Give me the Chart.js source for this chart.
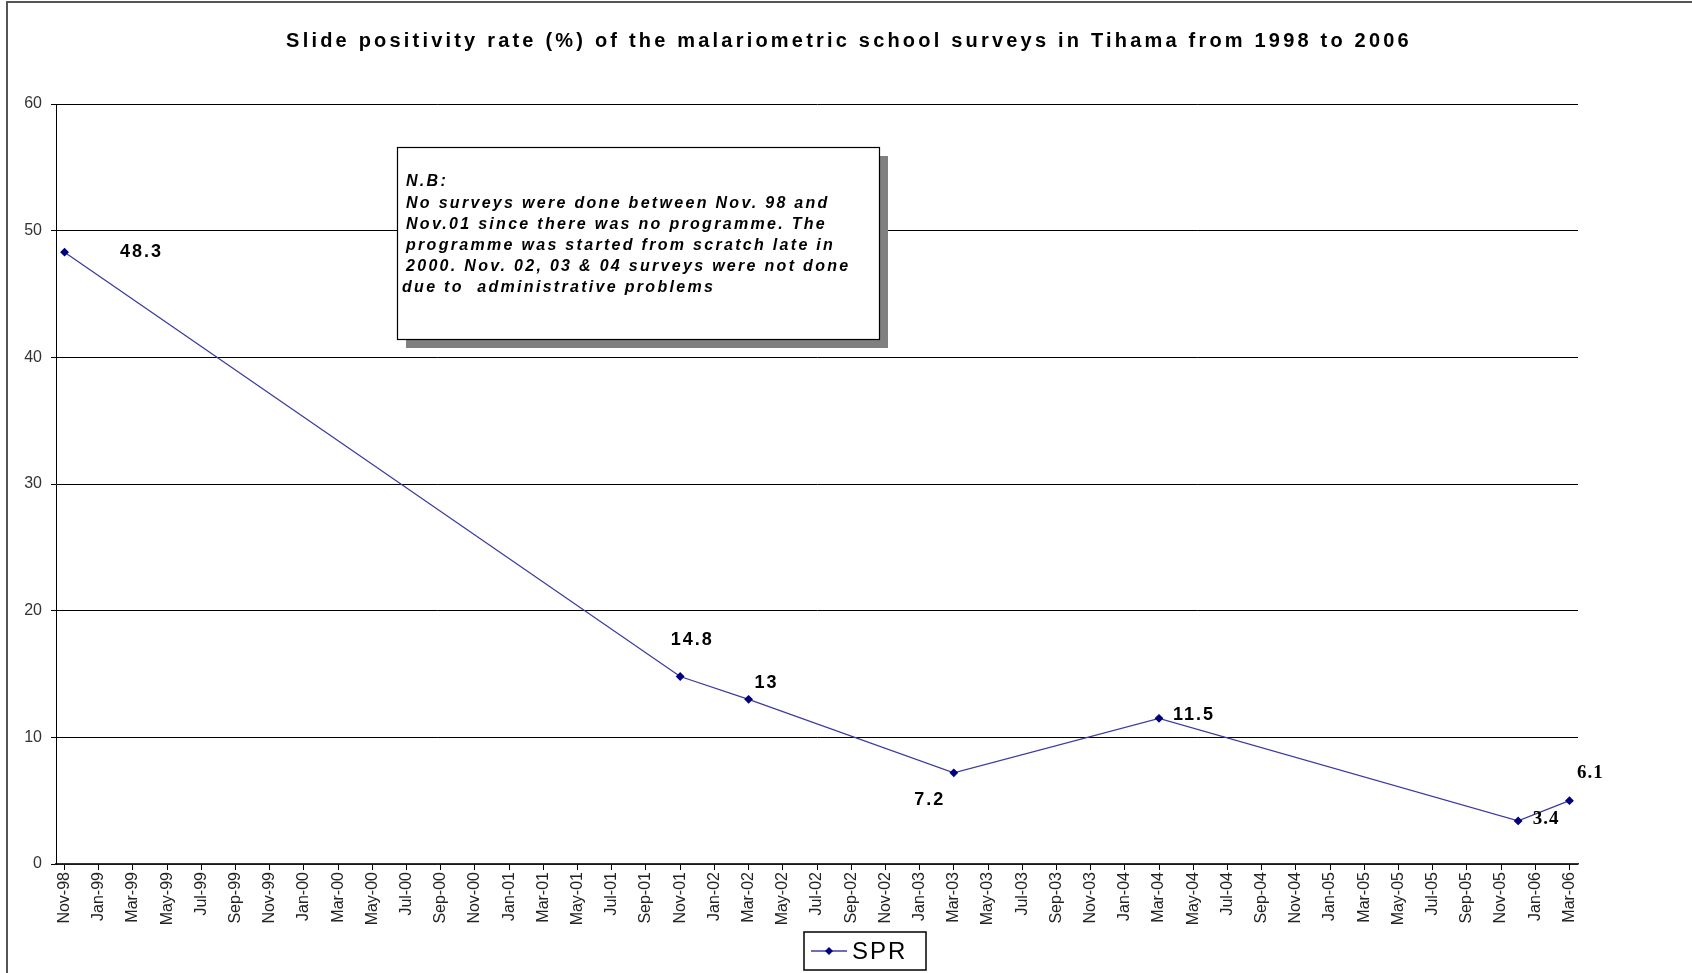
<!DOCTYPE html>
<html>
<head>
<meta charset="utf-8">
<script src="https://cdn.jsdelivr.net/npm/chart.js@4.4.0/dist/chart.umd.min.js"></script>
<style>
  html, body { margin: 0; padding: 0; background: #fff; }
  canvas { display: block; }
</style>
</head>
<body>
<canvas id="grafico-spr" width="1692" height="973"></canvas>
<script>
// monthly category axis, Nov-98 .. Mar-06 (labels shown every 2 months)
const months = [
  'Nov-98', 'Dec-98',
  'Jan-99', 'Feb-99', 'Mar-99', 'Apr-99', 'May-99', 'Jun-99', 'Jul-99', 'Aug-99', 'Sep-99', 'Oct-99', 'Nov-99', 'Dec-99',
  'Jan-00', 'Feb-00', 'Mar-00', 'Apr-00', 'May-00', 'Jun-00', 'Jul-00', 'Aug-00', 'Sep-00', 'Oct-00', 'Nov-00', 'Dec-00',
  'Jan-01', 'Feb-01', 'Mar-01', 'Apr-01', 'May-01', 'Jun-01', 'Jul-01', 'Aug-01', 'Sep-01', 'Oct-01', 'Nov-01', 'Dec-01',
  'Jan-02', 'Feb-02', 'Mar-02', 'Apr-02', 'May-02', 'Jun-02', 'Jul-02', 'Aug-02', 'Sep-02', 'Oct-02', 'Nov-02', 'Dec-02',
  'Jan-03', 'Feb-03', 'Mar-03', 'Apr-03', 'May-03', 'Jun-03', 'Jul-03', 'Aug-03', 'Sep-03', 'Oct-03', 'Nov-03', 'Dec-03',
  'Jan-04', 'Feb-04', 'Mar-04', 'Apr-04', 'May-04', 'Jun-04', 'Jul-04', 'Aug-04', 'Sep-04', 'Oct-04', 'Nov-04', 'Dec-04',
  'Jan-05', 'Feb-05', 'Mar-05', 'Apr-05', 'May-05', 'Jun-05', 'Jul-05', 'Aug-05', 'Sep-05', 'Oct-05', 'Nov-05', 'Dec-05',
  'Jan-06', 'Feb-06', 'Mar-06'
];
const surveyDates = ['Nov-98', 'Nov-01', 'Mar-02', 'Mar-03', 'Mar-04', 'Dec-05', 'Mar-06'];
const sprValues = [48.3, 14.8, 13, 7.2, 11.5, 3.4, 5.0];
const sprLabels = ['48.3', '14.8', '13', '7.2', '11.5', '3.4', '6.1'];
const yTicks = [0, 10, 20, 30, 40, 50, 60];

const titulo = 'Slide positivity rate (%) of the malariometric school surveys in Tihama from 1998 to 2006';
const notaLinhas = [
  'N.B:',
  'No surveys were done between Nov. 98 and',
  'Nov.01 since there was no programme. The',
  'programme was started from scratch late in',
  '2000. Nov. 02, 03 & 04 surveys were not done',
  'due to  administrative problems'
];

// posição dos rótulos em relação a cada ponto (dx, dy, serif?)
const labelPos = [
  [77, 0, false], [12, -37, false], [18, -16, false], [-24, 27, false],
  [35, -3, false], [28, -2, true], [21, -28, true]
];

const lineColor = '#3c3ca0';
const markColor = '#000080';

const decor = {
  id: 'decor',
  beforeDraw(chart) {
    const c = chart.ctx;
    c.save();
    c.fillStyle = '#fff';
    c.fillRect(0, 0, chart.width, chart.height);
    // moldura exterior (topo + esquerda)
    c.strokeStyle = '#555';
    c.lineWidth = 2;
    c.beginPath();
    c.moveTo(7, chart.height);
    c.lineTo(7, 2);
    c.lineTo(chart.width, 2);
    c.stroke();
    c.restore();
  },
  afterDatasetsDraw(chart) {
    const c = chart.ctx;
    const pts = chart.getDatasetMeta(0).data;
    c.save();
    c.fillStyle = '#000';
    c.textAlign = 'center';
    c.textBaseline = 'middle';
    pts.forEach((p, i) => {
      const [dx, dy, serif] = labelPos[i];
      if (serif) {
        c.font = 'bold 19px "Liberation Serif"';
        c.letterSpacing = '1px';
      } else {
        c.font = 'bold 18px "Liberation Sans"';
        c.letterSpacing = '2px';
      }
      c.fillText(sprLabels[i], p.x + dx, p.y + dy);
    });
    c.restore();
  },
  afterDraw(chart) {
    const c = chart.ctx;
    c.save();
    // titulo
    c.fillStyle = '#000';
    c.font = 'bold 20px "Liberation Sans"';
    c.letterSpacing = '3.2px';
    c.textAlign = 'center';
    c.textBaseline = 'middle';
    c.fillText(titulo, 849, 41);

    // caixa de nota com sombra
    c.fillStyle = '#808080';
    c.fillRect(406, 156, 482, 192);
    c.fillStyle = '#fff';
    c.fillRect(397, 147, 482, 192);
    c.strokeStyle = '#000';
    c.lineWidth = 1.2;
    c.strokeRect(397.5, 147.5, 482, 192);
    c.fillStyle = '#000';
    c.font = 'italic bold 16px "Liberation Sans"';
    c.letterSpacing = '2.3px';
    c.textAlign = 'left';
    notaLinhas.forEach((t, i) => {
      c.fillText(t, i === 5 ? 402 : 406, 182 + i * 21.2);
    });

    // legenda
    c.letterSpacing = '0px';
    c.strokeStyle = '#000';
    c.lineWidth = 1.5;
    c.strokeRect(804, 932, 122, 38);
    c.strokeStyle = lineColor;
    c.lineWidth = 1.5;
    c.beginPath();
    c.moveTo(811, 951);
    c.lineTo(847, 951);
    c.stroke();
    c.fillStyle = markColor;
    c.beginPath();
    c.moveTo(829, 947); c.lineTo(833, 951); c.lineTo(829, 955); c.lineTo(825, 951);
    c.closePath();
    c.fill();
    c.fillStyle = '#000';
    c.font = '24px "Liberation Sans"';
    c.letterSpacing = '2px';
    c.fillText('SPR', 852, 952);
    c.restore();
  }
};

const ctx = document.getElementById('grafico-spr').getContext('2d');
new Chart(ctx, {
  type: 'line',
  data: {
    datasets: [{
      label: 'SPR',
      data: surveyDates.map((d, i) => ({ x: d, y: sprValues[i] })),
      borderColor: lineColor,
      borderWidth: 1.3,
      pointStyle: 'rectRot',
      pointRadius: 3.5,
      pointBackgroundColor: markColor,
      pointBorderColor: markColor,
      tension: 0
    }]
  },
  options: {
    responsive: false,
    animation: false,
    devicePixelRatio: 1,
    layout: { padding: { top: 104, right: 114, left: 0, bottom: 0 } },
    plugins: {
      legend: { display: false },
      title: { display: false },
      tooltip: { enabled: false }
    },
    scales: {
      x: {
        type: 'category',
        labels: months,
        offset: true,
        grid: { offset: false, drawOnChartArea: false, color: '#000', tickLength: 6 },
        border: { color: '#333', width: 1.5 },
        ticks: {
          autoSkip: false, maxRotation: 90, minRotation: 90, padding: 2,
          color: '#222', font: { family: 'Liberation Sans', size: 16 }
        },
        afterBuildTicks: axis => { axis.ticks = axis.ticks.filter((t, i) => i % 2 === 0); },
        afterFit: s => { s.height = 109; }
      },
      y: {
        min: 0, max: 60,
        afterBuildTicks: axis => { axis.ticks = yTicks.map(v => ({ value: v })); },
        grid: { color: '#000', tickLength: 5 },
        border: { color: '#000' },
        ticks: { color: '#333', padding: 9, font: { family: 'Liberation Sans', size: 16 } },
        afterFit: s => { s.width = 56; }
      }
    }
  },
  plugins: [decor]
});
</script>
</body>
</html>
